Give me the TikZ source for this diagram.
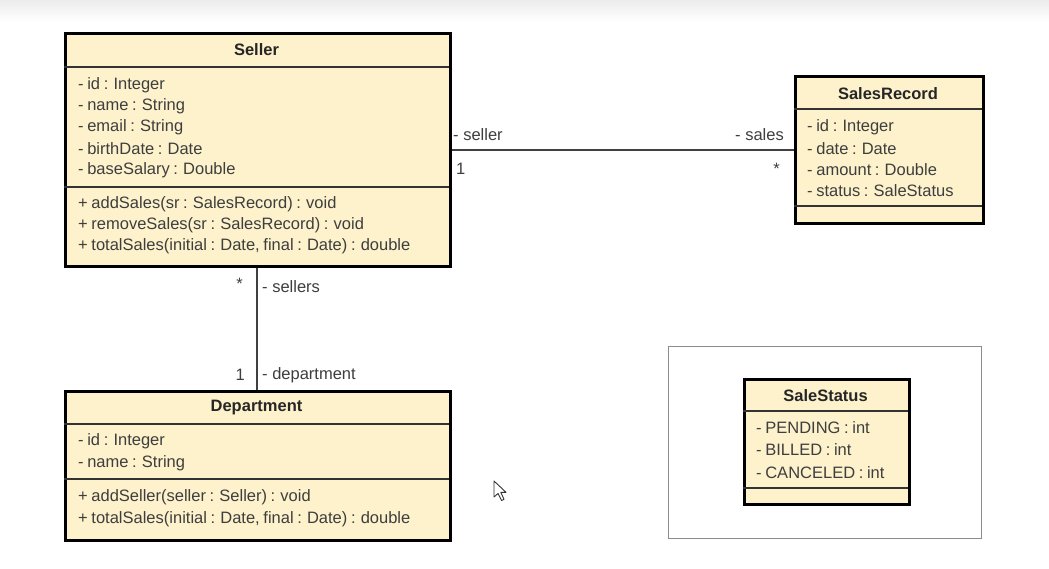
\documentclass[tikz,border=0pt]{standalone}
\usepackage{fontspec}
\setmainfont{Liberation Sans}
\definecolor{umlfill}{RGB}{253,242,204}
\definecolor{txt}{RGB}{62,62,62}
\definecolor{topband}{RGB}{236,236,236}
% narrower word spaces for the member lines
\newcommand\memberspacing{\spaceskip=0.22em plus 0.05em\relax}
\begin{document}
\begin{tikzpicture}[x=1pt,y=-1pt,
  classbox/.style={draw=black, line width=2.6pt, fill=umlfill, inner sep=0pt, anchor=north west},
  sepline/.style={draw=black!80, line width=1.5pt},
  title/.style={font=\fontsize{16.5}{19}\selectfont\bfseries, text=black!85, inner sep=0pt},
  member/.style={font=\fontsize{16.5}{19}\selectfont\memberspacing, text=txt, anchor=west, inner sep=0pt},
  lbl/.style={font=\fontsize{16.5}{19}\selectfont, text=txt, inner sep=0pt},
  assoc/.style={draw=black!75, line width=1.3pt},
  frame/.style={draw=black!45, line width=1pt}]

% canvas and the grey band along the top edge
\useasboundingbox (0,0) rectangle (1049,569);
\fill[white] (0,0) rectangle (1049,569);
\shade[top color=topband, bottom color=white] (0,0) rectangle (1049,22);

% ---------- Seller ----------
\node[classbox, minimum width=385pt, minimum height=233pt] (seller) at (64,32) {};
\node[title] (sellerT) at (256.5,50) {Seller};
\draw[sepline] (64,67) -- (449,67);
\draw[sepline] (64,187) -- (449,187);
\node[member] (s1) at (78,85)  {- id : Integer};
\node[member] (s2) at (78,106) {- name : String};
\node[member] (s3) at (78,127) {- email : String};
\node[member] (s4) at (78,149) {- birthDate : Date};
\node[member] (s5) at (78,170) {- baseSalary : Double};
\node[member] (s6) at (78,204) {+ addSales(sr : SalesRecord) : void};
\node[member] (s7) at (78,225) {+ removeSales(sr : SalesRecord) : void};
\node[member] (s8) at (78,246) {+ totalSales(initial : Date, final : Date) : double};

% ---------- SalesRecord ----------
\node[classbox, minimum width=188pt, minimum height=147pt] (record) at (794,75) {};
\node[title] (recordT) at (888,94) {SalesRecord};
\draw[sepline] (794,109) -- (982,109);
\draw[sepline] (794,206) -- (982,206);
\node[member] (r1) at (807,127) {- id : Integer};
\node[member] (r2) at (807,149) {- date : Date};
\node[member] (r3) at (807,170) {- amount : Double};
\node[member] (r4) at (807,191) {- status : SaleStatus};

% ---------- Department ----------
\node[classbox, minimum width=385pt, minimum height=149pt] (dept) at (64,390) {};
\node[title] (deptT) at (256.5,408) {Department};
\draw[sepline] (64,424) -- (449,424);
\draw[sepline] (64,479) -- (449,479);
\node[member] (d1) at (78,441) {- id : Integer};
\node[member] (d2) at (78,463) {- name : String};
\node[member] (d3) at (78,497) {+ addSeller(seller : Seller) : void};
\node[member] (d4) at (78,519) {+ totalSales(initial : Date, final : Date) : double};

% ---------- SaleStatus inside its frame ----------
\node[frame, minimum width=313pt, minimum height=192pt, inner sep=0pt, anchor=north west] (pkg) at (668,346) {};
\node[classbox, minimum width=165pt, minimum height=125pt] (status) at (743,378) {};
\node[title] (statusT) at (825.5,396) {SaleStatus};
\draw[sepline] (743,411) -- (908,411);
\draw[sepline] (743,488) -- (908,488);
\node[member] (e1) at (756,428) {- PENDING : int};
\node[member] (e2) at (756,450) {- BILLED : int};
\node[member] (e3) at (756,473) {- CANCELED : int};

% ---------- associations ----------
\coordinate (selR) at (seller.east |- 0,150);
\coordinate (recL) at (record.west |- 0,150);
\draw[assoc] (selR) -- (recL);
\node[lbl, anchor=west] (la1) at (453,135) {- seller};
\node[lbl, anchor=west] (la2) at (456,169) {1};
\node[lbl, anchor=east] (la3) at (784,135) {- sales};
\node[lbl, anchor=east] (la4) at (780,169) {*};

\coordinate (selB) at (257,0 |- seller.south);
\coordinate (depT) at (257,0 |- dept.north);
\draw[assoc] (selB) -- (depT);
\node[lbl, anchor=east] (lb1) at (243,284) {*};
\node[lbl, anchor=west] (lb2) at (262,287) {- sellers};
\node[lbl, anchor=east] (lb3) at (245,375) {1};
\node[lbl, anchor=west] (lb4) at (262,375) {- department};

% mouse pointer
\draw[black!80, fill=white, line width=0.9pt, line join=round]
  (494,481) -- (494,497) -- (498,493.5) -- (501.5,500.5) -- (504,499.3)
  -- (500.8,492.3) -- (506,492.3) -- cycle;
\end{tikzpicture}
\end{document}
